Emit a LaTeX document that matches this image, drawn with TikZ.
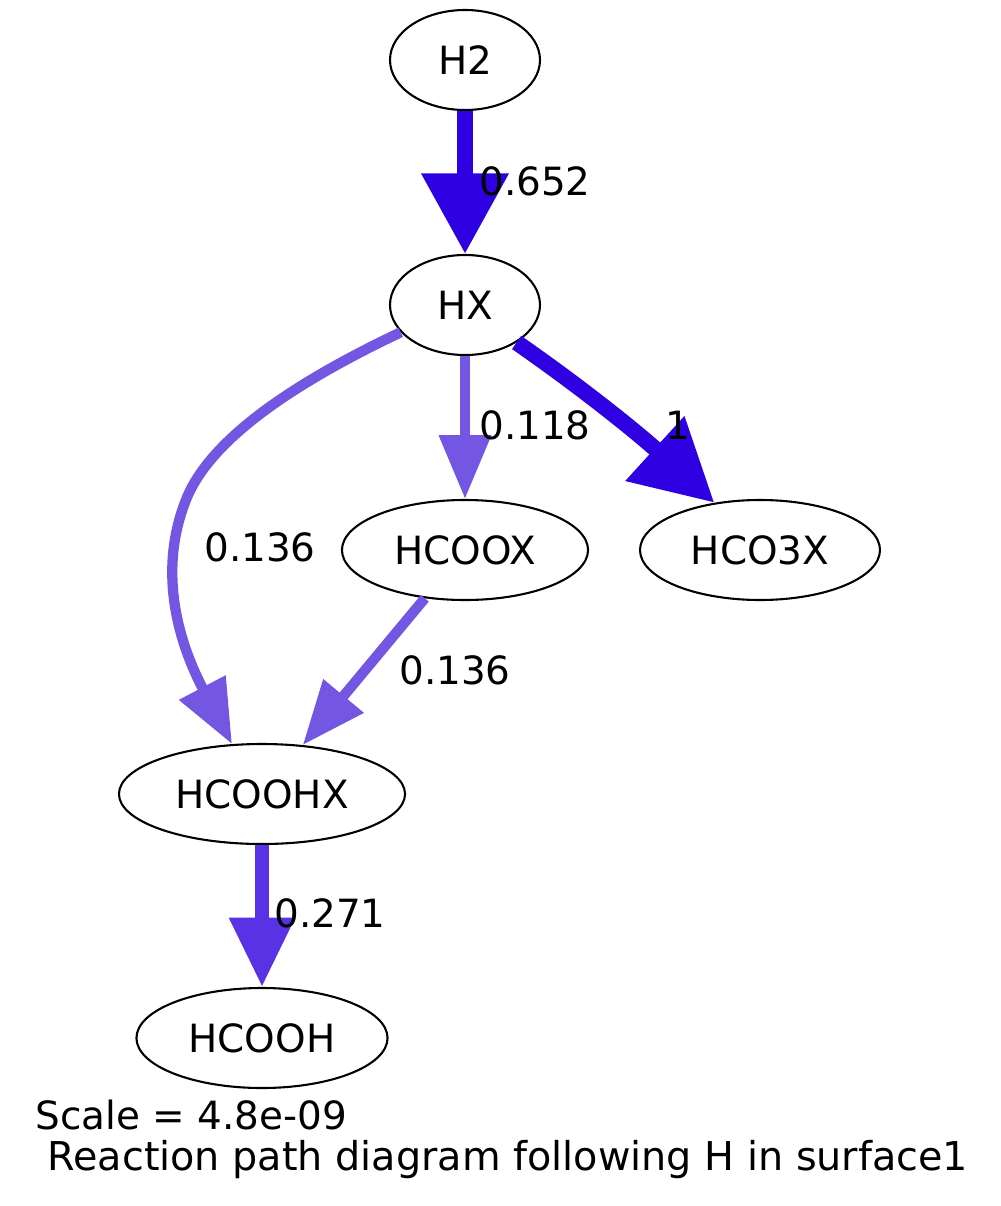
\documentclass[tikz,border=0pt]{standalone}
\usepackage{fontspec}
\setmainfont{DejaVu Sans}
\usetikzlibrary{shapes.geometric, arrows.meta}
\definecolor{fluxhi}{RGB}{46,0,226}
\definecolor{fluxmid}{RGB}{90,50,230}
\definecolor{fluxlo}{RGB}{115,86,226}

\begin{document}
\begin{tikzpicture}[x=0.36pt, y=-0.36pt, font=\fontsize{14pt}{17pt}\selectfont,
    sp/.style={draw, ellipse, line width=0.75pt, inner sep=0pt, minimum height=36pt},
    hi/.style={fluxhi, line width=5.8pt, -{Triangle[length=29pt, width=30pt]}},
    mid/.style={fluxmid, line width=5pt, -{Triangle[length=25pt, width=22.5pt]}},
    lo/.style={fluxlo, line width=3.7pt, -{Triangle[length=23pt, width=18pt]}},
    lbl/.style={inner sep=0pt, text=black}]
    \useasboundingbox (0,0) rectangle (1000,1206);
    % species
    \node[sp, minimum width=54pt] (h2) at (465,60) {H2};
    \node[sp, minimum width=54pt] (hx) at (465,305) {HX};
    \node[sp, minimum width=88.6pt] (hcoox) at (465,550) {HCOOX};
    \node[sp, minimum width=86.4pt] (hco3x) at (760,550) {HCO3X};
    \node[sp, minimum width=103pt] (hcoohx) at (262,794) {HCOOHX};
    \node[sp, minimum width=90.4pt] (hcooh) at (262,1038) {HCOOH};
    % fluxes
    \draw[hi] (h2) -- (hx) node[lbl] at (535,181) {0.652};
    \draw[hi] (hx.-36) .. controls (585,390) and (640,435) .. (hco3x.134) node[lbl] at (678,425) {1};
    \draw[lo] (hx) -- (hcoox) node[lbl] at (535,425) {0.118};
    \draw[lo] (hx.203) .. controls (300,380) and (215,435) .. (188,495)
        .. controls (160,560) and (172,630) .. (hcoohx.121) node[lbl] at (260,547) {0.136};
    \draw[lo] (hcoox) -- (hcoohx) node[lbl] at (455,670) {0.136};
    \draw[mid] (hcoohx) -- (hcooh) node[lbl] at (330,913) {0.271};
    % caption
    \node[lbl, anchor=west] (scale) at (35,1115) {Scale = 4.8e-09};
    \node[lbl, anchor=west, font=\fontsize{14.3pt}{17pt}\selectfont] (title) at (47,1160) {Reaction path diagram following H in surface1};
\end{tikzpicture}
\end{document}
